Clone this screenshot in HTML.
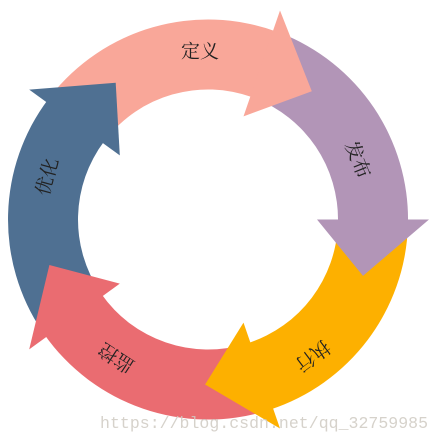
<!DOCTYPE html>
<html><head><meta charset="utf-8"><style>
html,body{margin:0;padding:0;background:#fff;width:440px;height:441px;overflow:hidden}
svg{display:block}
</style></head><body>
<svg id="s" width="440" height="441" viewBox="0 0 440 441" xmlns="http://www.w3.org/2000/svg">
<g id="bodies"></g><g id="heads"></g>
<g font-family="'Liberation Serif','Noto Serif CJK SC',serif" font-size="19" fill="#222" text-anchor="middle" dominant-baseline="central">
<text transform="translate(200,52)">定义</text>
<text transform="translate(357,160) rotate(68)">发布</text>
<text transform="translate(312,355) rotate(143)">执行</text>
<text transform="translate(117,357) rotate(213)">监控</text>
<text transform="translate(48,177) rotate(-75)">优化</text>
</g>
<text x="100" y="428" font-family="'Liberation Mono',monospace" font-size="16.5" fill="#cfcac2" fill-opacity="0.85" textLength="328">https://blog.csdn.net/qq_32759985</text>
</svg>
<script>
var cx=208,cy=219.5,R=200,r=130,HR=221,Hr=109,TR=165;
var arrows=[
 {c:"#F9A799",base:-71},
 {c:"#B295B7",base:0},
 {c:"#FDB000",base:71},
 {c:"#EA6C71",base:144},
 {c:"#4F7092",base:216}
];
function p(a,rad){a=a*Math.PI/180;return (cx+rad*Math.cos(a)).toFixed(1)+","+(cy+rad*Math.sin(a)).toFixed(1);}
var ns="http://www.w3.org/2000/svg";
var B=document.getElementById("bodies"),H=document.getElementById("heads");
for(var i=0;i<arrows.length;i++){
 var A=arrows[i],prev=arrows[(i+arrows.length-1)%arrows.length];
 var pb=prev.base; while(pb>A.base) pb-=360;
 var start=pb+2,end=A.base+1;
 var d="M"+p(start,R)+" A"+R+","+R+" 0 0 1 "+p(end,R)+" L"+p(end,r)+" A"+r+","+r+" 0 0 0 "+p(start,r)+" Z";
 var e=document.createElementNS(ns,"path");e.setAttribute("d",d);e.setAttribute("fill",A.c);B.appendChild(e);
 var h="M"+p(A.base,Hr)+" L"+p(A.base,HR)+" L"+p(A.base+20,TR)+" Z";
 var f=document.createElementNS(ns,"path");f.setAttribute("d",h);f.setAttribute("fill",A.c);H.appendChild(f);
}
</script>
</body></html>
